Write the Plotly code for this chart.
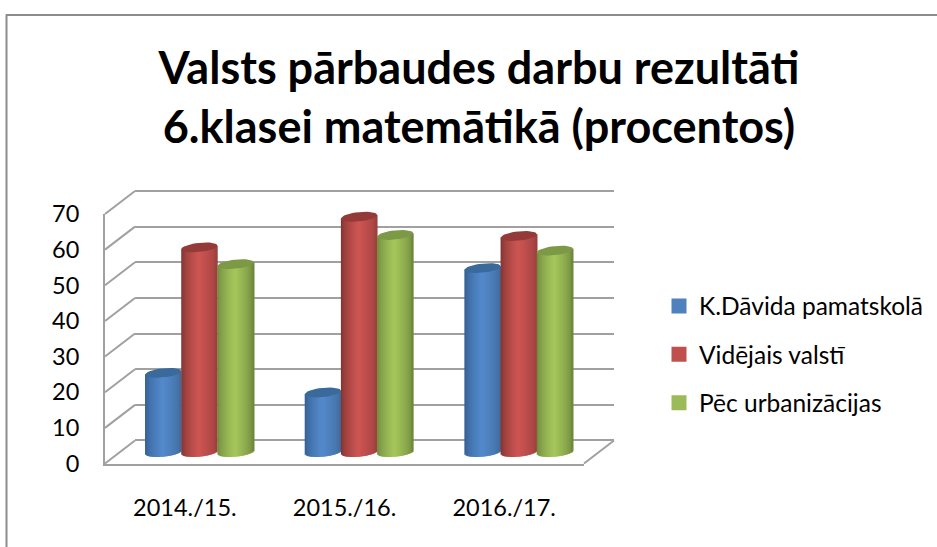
import numpy as np
import plotly.graph_objects as go

categories = ["2014./15.", "2015./16.", "2016./17."]
series_names = ["K.Dāvida pamatskolā", "Vidējais valstī", "Pēc urbanizācijas"]
kdavida = [22.2, 16.7, 51.6]
videjais = [57.4, 66.0, 60.6]
urban = [52.7, 60.9, 56.5]
title_text = "Valsts pārbaudes darbu rezultāti<br>6.klasei matemātikā (procentos)"
y_ticks = [0, 10, 20, 30, 40, 50, 60, 70]

W, H = 937, 547
FONT = "Lato, Carlito, Calibri, sans-serif"
GRID = "#a0a0a0"
px = lambda v: v / W
py = lambda v: 1 - v / H

# wall / floor geometry in pixels
FL, FR, FB, FT = 105.0, 584.0, 463.5, 214.0      # front plane
DX, DY = 30.0, 23.0                              # depth offset of the back wall
UNIT = (FB - FT) / 70.0
BX, BY = DX / 2 - 0.5, DY / 2                    # bars stand mid-depth
CAT_PX = (FR - FL) / 3
BAR_W = 36.2 / CAT_PX
B_PX, TILT = 4.6, 1.8
N = 36

styles = [
    dict(edgeL=(50, 92, 142), mid=(84, 138, 204), edgeR=(62, 104, 150), cap=(58, 106, 156)),
    dict(edgeL=(122, 50, 48), mid=(205, 86, 83), edgeR=(150, 62, 60), cap=(148, 58, 56)),
    dict(edgeL=(108, 132, 60), mid=(165, 200, 92), edgeR=(104, 128, 58), cap=(124, 153, 70)),
]
values = [kdavida, videjais, urban]


def shade(s, t):
    if t < 0.48:
        f = (t / 0.48) ** 0.6
        a, b = s["edgeL"], s["mid"]
    else:
        f = ((1 - t) / 0.52) ** 0.6
        a, b = s["edgeR"], s["mid"]
    return "rgb(%d,%d,%d)" % tuple(a[i] + (b[i] - a[i]) * f for i in range(3))


fig = go.Figure()

# front axes carry the labels
fig.add_trace(go.Scatter(x=categories, y=[None] * 3, xaxis="x", yaxis="y",
                         showlegend=False, hoverinfo="skip"))
# a trace on the back-wall axes so that its gridlines are drawn
fig.add_trace(go.Scatter(x=[None], y=[None], xaxis="x2", yaxis="y2", showlegend=False, hoverinfo="skip"))

for k, (name, vals, st) in enumerate(zip(series_names, values, styles)):
    xs, ys, bases, widths, offs, cols = [], [], [], [], [], []
    capx, capy = [], []
    for c, v in enumerate(vals):
        left = (k - 1.5) * BAR_W
        for j in range(N):
            t0 = j / N
            tc = (j + 0.5) / N
            u = 2 * tc - 1
            bot = (-B_PX * np.sqrt(1 - u * u) + TILT * u) / UNIT
            xs.append(c)
            bases.append(bot)
            ys.append(v + TILT * u / UNIT - bot)
            widths.append(BAR_W / N * (2 if j < N - 1 else 1))
            offs.append(left + t0 * BAR_W)
            cols.append(shade(st, tc))
        th = np.linspace(0, 2 * np.pi, 40)
        capx += list(c + (k - 1) * BAR_W + BAR_W / 2 * np.cos(th)) + [None]
        capy += list(v + (B_PX * np.sin(th) + TILT * np.cos(th)) / UNIT) + [None]
    fig.add_trace(go.Bar(x=xs, y=ys, base=bases, width=widths, offset=offs,
                         marker=dict(color=cols, line=dict(width=0)),
                         xaxis="x3", yaxis="y3", showlegend=False, hoverinfo="skip"))
    fig.add_trace(go.Scatter(x=capx, y=capy, mode="lines", fill="toself",
                             fillcolor="rgb(%d,%d,%d)" % st["cap"], line=dict(width=0),
                             xaxis="x3", yaxis="y3", showlegend=False, hoverinfo="skip"))

legend_cols = ["#4F81BD", "#C0504D", "#9BBB59"]
for name, col in zip(series_names, legend_cols):
    fig.add_trace(go.Scatter(x=[None], y=[None], mode="markers", name=name, legendgroup=name,
                             marker=dict(symbol="square", size=15, color=col),
                             xaxis="x3", yaxis="y3"))

# connecting lines between front plane and back wall
shapes = []
for v in y_ticks:
    y = FB - v * UNIT
    shapes.append(dict(type="line", xref="paper", yref="paper", x0=px(FL), y0=py(y),
                       x1=px(FL + DX), y1=py(y - DY), line=dict(color=GRID, width=2), layer="below"))
shapes.append(dict(type="line", xref="paper", yref="paper", x0=px(FR), y0=py(FB),
                   x1=px(FR + DX), y1=py(FB - DY), line=dict(color=GRID, width=2), layer="below"))
# outer frame
shapes.append(dict(type="line", xref="paper", yref="paper", x0=px(6.5), y0=py(547),
                   x1=px(6.5), y1=py(14.5), line=dict(color="#8c8c8c", width=2)))
shapes.append(dict(type="line", xref="paper", yref="paper", x0=px(6), y0=py(15),
                   x1=px(937), y1=py(15), line=dict(color="#8c8c8c", width=2)))

tick_font = dict(family=FONT, size=23.5, color="#000000")
R_LOW, R_HIGH = -5.0, 75.0
G_LOW, G_HIGH = -3.0, 73.0   # back-wall axis runs past 0 and 70 so both end gridlines are kept

fig.update_layout(
    template="none",
    width=W, height=H, margin=dict(l=0, r=0, t=0, b=0, autoexpand=False),
    paper_bgcolor="white", plot_bgcolor="rgba(0,0,0,0)",
    barmode="overlay", shapes=shapes,
    title=dict(text=title_text, x=479 / W, xanchor="center", y=py(84), yanchor="top",
               font=dict(family=FONT, size=45, color="#000000", weight="bold")),
    legend=dict(x=px(659), y=py(283.5), xanchor="left", yanchor="top", tracegroupgap=13.5,
                font=dict(family=FONT, size=24.5, color="#000000"), bgcolor="rgba(0,0,0,0)"),
    xaxis=dict(domain=[px(FL), px(FR)], anchor="y", type="category", automargin=False,
               categoryorder="array", categoryarray=categories, range=[-0.5, 2.5],
               showgrid=False, zeroline=False, showline=True, linecolor=GRID, linewidth=2,
               ticks="", tickfont=tick_font, ticklabelstandoff=22),
    yaxis=dict(domain=[py(FB), py(FT)], anchor="x", range=[0, 70], tickvals=y_ticks, automargin=False,
               showgrid=False, zeroline=False, showline=True, linecolor=GRID, linewidth=2,
               ticks="", tickfont=tick_font, ticklabelstandoff=19),
    xaxis2=dict(domain=[px(FL + DX), px(FR + DX)], anchor="y2", range=[0, 1],
                visible=False, automargin=False),
    yaxis2=dict(domain=[py(FB - DY - G_LOW * UNIT), py(FB - DY - G_HIGH * UNIT)], anchor="x2",
                range=[G_LOW, G_HIGH], automargin=False,
                tickvals=y_ticks, showgrid=True, gridcolor=GRID, gridwidth=2,
                zeroline=False, showticklabels=False, ticks="", showline=False),
    xaxis3=dict(domain=[px(FL + BX), px(FR + BX)], anchor="y3", range=[-0.5, 2.5],
                visible=False, automargin=False),
    yaxis3=dict(domain=[py(FB - BY - R_LOW * UNIT), py(FB - BY - R_HIGH * UNIT)], anchor="x3",
                range=[R_LOW, R_HIGH], visible=False, automargin=False),
)

fig.write_html("out.html", config={"displayModeBar": False},
               post_script="document.body.style.margin='0';document.body.style.overflow='hidden';")
